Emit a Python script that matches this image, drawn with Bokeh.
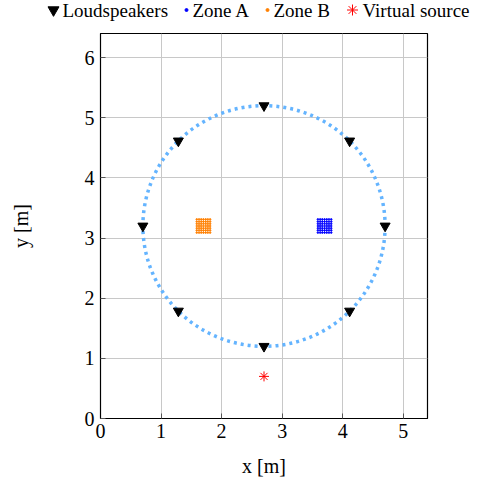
import numpy as np
from bokeh.plotting import figure
from bokeh.models import Range1d, FixedTicker
from bokeh.core.properties import value
from bokeh.embed import file_html
from bokeh.resources import INLINE

# Loudspeakers (8 on a circle of radius 2 m around (2.7, 3.2))
spk_x = [4.7, 4.114, 2.7, 1.286, 0.7, 1.286, 2.7, 4.114]
spk_y = [3.2, 4.614, 5.2, 4.614, 3.2, 1.786, 1.2, 1.786]

# Array circle
circ_cx = [2.7]
circ_cy = [3.2]
circ_d = [4.0]

# Zone A / Zone B control-point grids
zone_a_xs = [3.59, 3.627, 3.663, 3.70, 3.737, 3.773, 3.81]
zone_a_ys = [3.09, 3.127, 3.163, 3.20, 3.237, 3.273, 3.31]
zone_b_xs = [1.59, 1.627, 1.663, 1.70, 1.737, 1.773, 1.81]
zone_b_ys = [3.09, 3.127, 3.163, 3.20, 3.237, 3.273, 3.31]

# Virtual source
vs_x = [2.7]
vs_y = [0.7]

x_ticks = [0, 1, 2, 3, 4, 5]
y_ticks = [0, 1, 2, 3, 4, 5, 6]

legend_labels = ["Loudspeakers", "Zone A", "Zone B", "Virtual source"]

ax, ay = np.meshgrid(zone_a_xs, zone_a_ys)
bx, by = np.meshgrid(zone_b_xs, zone_b_ys)

FONT = "Liberation Serif"
CIRC_COLOR = "#64b4ff"
SPK_COLOR = "black"
A_COLOR = "#0000ff"
B_COLOR = "#ff8000"
VS_COLOR = "#ff0000"

p = figure(width=475, height=451, output_backend="svg", toolbar_location=None,
           x_range=Range1d(0, 5.4), y_range=Range1d(0, 6.4),
           min_border_left=100, min_border_right=48, min_border_top=5, min_border_bottom=61)

p.outline_line_color = "black"
p.outline_line_width = 1.2

p.ellipse(x=circ_cx, y=circ_cy, width=circ_d, height=circ_d, fill_color=None,
          line_color=CIRC_COLOR, line_width=3.5, line_dash="3 4")
p.scatter(spk_x, spk_y, marker="inverted_triangle", size=10, color=SPK_COLOR)
p.scatter(ax.ravel(), ay.ravel(), marker="circle", size=1.6, color=A_COLOR)
p.scatter(bx.ravel(), by.ravel(), marker="circle", size=1.6, color=B_COLOR)
p.scatter(vs_x, vs_y, marker="asterisk", size=10, line_color=VS_COLOR, line_width=1)

for axis, ticks in ((p.xaxis, x_ticks), (p.yaxis, y_ticks)):
    axis.ticker = FixedTicker(ticks=ticks)
    axis.major_tick_in = 5
    axis.major_tick_out = 0
    axis.minor_tick_line_color = None
    axis.axis_line_color = "black"
    axis.major_tick_line_color = "#555555"
    axis.major_label_text_font = FONT
    axis.major_label_text_font_size = "20px"
    axis.major_label_text_color = "black"
    axis.axis_label_text_font = FONT
    axis.axis_label_text_font_size = "20px"
    axis.axis_label_text_font_style = "normal"
    axis.axis_label_text_color = "black"

p.xaxis.major_label_standoff = 5
p.yaxis.major_label_standoff = 6
p.xaxis.axis_label = "x [m]"
p.yaxis.axis_label = "y [m]"
p.xaxis.axis_label_standoff = 14
p.yaxis.axis_label_standoff = 50
p.yaxis.major_label_orientation = "horizontal"

p.grid.grid_line_color = "#c8c8c8"
p.grid.grid_line_width = 1
p.xgrid.ticker = FixedTicker(ticks=x_ticks)
p.ygrid.ticker = FixedTicker(ticks=y_ticks)

# Legend strip above the plot (separate root, screen-pixel coordinates)
lg = figure(width=475, height=28, output_backend="svg", toolbar_location=None,
            x_range=Range1d(0, 475), y_range=Range1d(28, 0),
            min_border_left=0, min_border_right=0, min_border_top=0, min_border_bottom=0)
lg.axis.visible = False
lg.grid.visible = False
lg.outline_line_color = None

sw_x = [53, 186, 267, 352]      # swatch centres (layout)
tx_x = [62, 192, 273, 362]      # label starts (layout)
row_y = 9.5
lg.scatter([sw_x[0]], [row_y], marker="inverted_triangle", size=11, color=SPK_COLOR)
lg.scatter([sw_x[1]], [row_y], marker="circle", size=3, color=A_COLOR)
lg.scatter([sw_x[2]], [row_y], marker="circle", size=3, color=B_COLOR)
lg.scatter([sw_x[3]], [row_y], marker="asterisk", size=11, line_color=VS_COLOR, line_width=1)
lg.text(x=tx_x, y=[row_y] * 4, text=legend_labels, text_font=value(FONT),
        text_font_size="19px", text_color="black", text_baseline="middle", text_align="left")

open("out.html", "w").write(file_html([lg, p], INLINE))
